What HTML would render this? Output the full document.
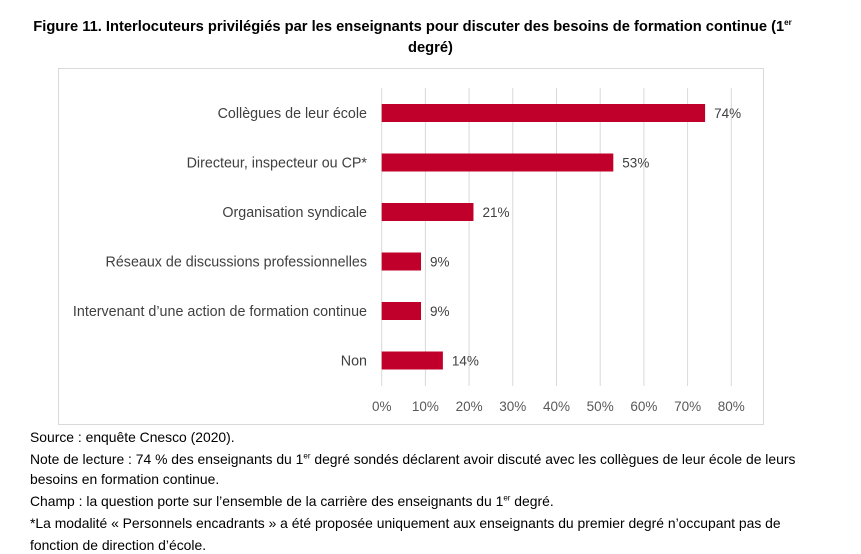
<!DOCTYPE html>
<html><head><meta charset="utf-8"><style>
body{margin:0;width:861px;height:554px;background:#fff;font-family:"Liberation Sans",sans-serif;position:relative;overflow:hidden}
.t{position:absolute;left:-18px;width:861px;text-align:center;font-weight:bold;font-size:14.7px;color:#000;line-height:21px;top:12px}
.n{position:absolute;left:30px;font-size:13.9px;color:#000;white-space:nowrap}
sup{font-size:8px}
</style></head><body>
<div class="t">Figure 11. Interlocuteurs privilégiés par les enseignants pour discuter des besoins de formation continue (1<sup>er</sup><br><span style="position:relative;left:18px">degré)</span></div>
<svg width="861" height="554" style="position:absolute;left:0;top:0">
<rect x="58.5" y="68.5" width="705" height="356" fill="none" stroke="#d9d9d9"/>
<g id="g"></g>
</svg>
<div class="n" style="top:429px">Source : enquête Cnesco (2020).</div>
<div class="n" style="top:451px">Note de lecture : 74 % des enseignants du 1<sup>er</sup> degré sondés déclarent avoir discuté avec les collègues de leur école de leurs</div>
<div class="n" style="top:471px">besoins en formation continue.</div>
<div class="n" style="top:493px">Champ : la question porte sur l’ensemble de la carrière des enseignants du 1<sup>er</sup> degré.</div>
<div class="n" style="top:515px">*La modalité « Personnels encadrants » a été proposée uniquement aux enseignants du premier degré n’occupant pas de</div>
<div class="n" style="top:537px">fonction de direction d’école.</div>
<script>
const categories=["Collègues de leur école","Directeur, inspecteur ou CP*","Organisation syndicale","Réseaux de discussions professionnelles","Intervenant d’une action de formation continue","Non"];
const values=[74,53,21,9,9,14];
const ticks=[0,10,20,30,40,50,60,70,80];
const NS="http://www.w3.org/2000/svg",g=document.getElementById('g');
const x=v=>381.7+v*4.37;
const y=i=>113+i*49.5;
function mk(t,a,txt){const e=document.createElementNS(NS,t);for(const k in a)e.setAttribute(k,a[k]);if(txt!==undefined)e.textContent=txt;g.appendChild(e);return e;}
ticks.forEach(t=>{
 const l=mk('line',{x1:x(t),x2:x(t),y1:88,y2:386,stroke:'#d9d9d9'});
 
 
 const tx=mk('text',{x:x(t),y:411,'text-anchor':'middle','font-size':13.5,fill:'#595959'},t+'%');
 
 
});
categories.forEach((c,i)=>{
 const lb=mk('text',{x:367,y:y(i)+5,'text-anchor':'end','font-size':14.3,fill:'#404040'},c);
 
 
 const b=mk('rect',{x:x(0),y:y(i)-9,width:x(values[i])-x(0),height:18,fill:'#c0002a'});
 
 
 const v=mk('text',{x:x(values[i])+9,y:y(i)+5,'font-size':13.5,fill:'#404040'},values[i]+'%');
 
 
});
</script>
</body></html>
